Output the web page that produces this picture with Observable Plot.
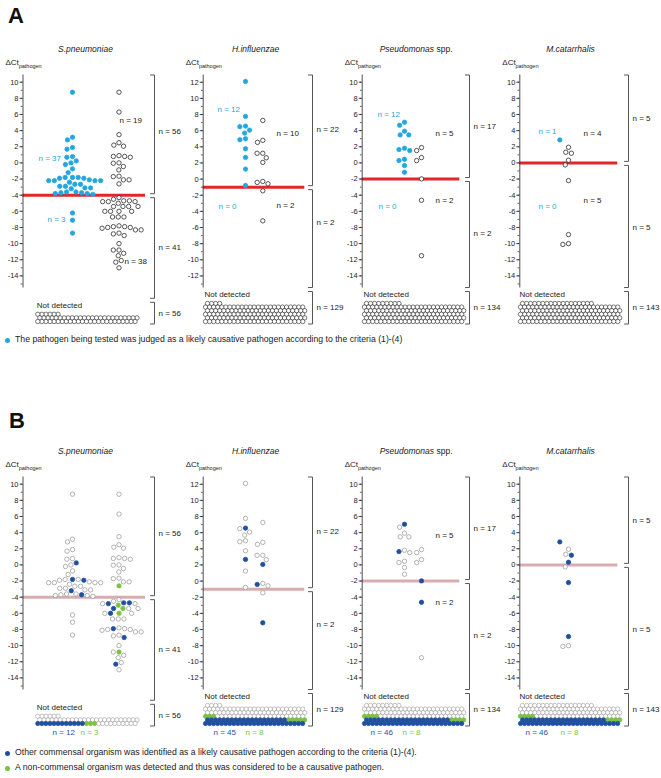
<!DOCTYPE html>
<html><head><meta charset="utf-8">
<script src="https://cdn.jsdelivr.net/npm/d3@7"></script>
<script src="https://cdn.jsdelivr.net/npm/@observablehq/plot@0.6"></script>
<style>
body{margin:0;background:#fff;font-family:"Liberation Sans",Arial,sans-serif;}
#fig{position:relative;width:661px;height:778px;overflow:hidden;background:#fff;}
.big{position:absolute;font-weight:bold;font-size:22px;line-height:22px;color:#111;}
.leg{position:absolute;left:5px;font-size:8.7px;line-height:10px;color:#222;white-space:nowrap;}
.leg i{display:inline-block;width:5px;height:5px;border-radius:50%;margin-right:5px;vertical-align:-0.5px;}
</style></head><body><div id="fig"></div>
<script>
// ---------------- data (ΔCt_pathogen values) ----------------
const species = ["S.pneumoniae", "H.influenzae", "Pseudomonas spp.", "M.catarrhalis"];
const cutoffs = [-4, -1, -2, 0];
const ticksStd = [-14, -12, -10, -8, -6, -4, -2, 0, 2, 4, 6, 8, 10];
const ticksHin = [-12, -10, -8, -6, -4, -2, 0, 2, 4, 6, 8, 10, 12];

// judged as likely causative pathogen (panel A, filled)
const spnJudged = [8.76, 3.18, 2.85, 1.9, 1.7, 0.78, 0.7, 0.25, 0.0, -0.2, -0.74, -1.2, -1.8, -2.1, -2.2, -2.2, -2.4, -2.2, -2.2, -1.8, -1.9, -1.9, -1.8, -2.9, -2.9, -2.65, -2.65, -3.6, -3.6, -3.7, -3.8, -3.8, -3.7, -3.2, -3.1, -3.1, -3.9, -6.2, -7.1, -8.7];
const hinJudged = [12.1, 7.77, 6.57, 6.5, 6.07, 5.7, 5.0, 4.88, 3.76, 2.69, 1.24, -0.79];
const psdJudged = [5.04, 4.67, 3.93, 3.47, 3.47, 1.82, 1.65, 1.53, 0.45, 0.29, -0.33, -1.16];
const mcaJudged = [2.85];
// not judged (panel A, open)
const spnOther = [8.76, 6.3, 3.5, 2.5, 2.2, 2.07, 0.9, 0.8, 0.8, 0.7, 0.0, -0.04, -0.45, -0.87, -1.65, -1.7, -2.1, -2.1, -2.6, -4.3, -4.5, -4.7, -4.7, -4.8, -4.8, -4.8, -5.0, -5.4, -5.4, -5.4, -5.4, -6.0, -6.0, -6.0, -6.0, -6.7, -6.7, -6.7, -7.8, -7.9, -7.9, -8.0, -8.0, -8.1, -8.3, -8.3, -8.7, -8.8, -9.0, -10.0, -10.8, -10.8, -11.2, -11.5, -12.1, -12.3, -13.0];
const hinOther = [7.27, 4.8, 4.55, 3.2, 3.2, 2.64, 2.07, -0.29, -0.41, -0.58, -1.45, -5.17];
const psdOther = [1.9, 1.53, 0.66, 0.29, -1.98, -4.63, -11.5];
const mcaOther = [1.94, 1.32, 1.2, 0.33, -0.25, -2.19, -8.88, -10.0, -10.1];
// panel B: other commensal organism identified as likely causative (blue)
const spnCommensal = [0.25, -1.9, -1.8, -3.2, -3.7, -4.8, -4.7, -5.4, -4.7, -6.0, -7.9, -9.0, -12.3];
const hinCommensal = [6.57, 2.69, 2.07, -0.41, -5.17];
const psdCommensal = [5.04, 1.65, -1.98, -4.63];
const mcaCommensal = [2.85, 1.2, 0.33, -2.19, -8.88];
// panel B: non-commensal organism detected (green)
const spnNonCommensal = [-2.6, -5.0, -5.4, -6.0, -10.8];
const hinNonCommensal = [];
const psdNonCommensal = [];
const mcaNonCommensal = [];
// not detected counts
const notDetected = [56, 129, 134, 143];
const ndCommensal = [12, 45, 46, 46];
const ndNonCommensal = [3, 8, 8, 8];

const judgedAll = [spnJudged, hinJudged, psdJudged, mcaJudged];
const otherAll = [spnOther, hinOther, psdOther, mcaOther];
const commensalAll = [spnCommensal, hinCommensal, psdCommensal, mcaCommensal];
const nonCommensalAll = [spnNonCommensal, hinNonCommensal, psdNonCommensal, mcaNonCommensal];
const majorTicks = [ticksStd, ticksHin, ticksStd, ticksStd];

// ---------------- layout & style ----------------
const K = 8.07, T = 30, H = 318, SHIFT_B = 402;
const RED_A = "#e2262b", RED_B = "#d8adb1";
const CYAN = "#22a6df", NAVY = "#1f4f9e", GREEN = "#7bc144", GRAY = "#9a9a9a", INK = "#222";
const FONT = "Liberation Sans, Arial, Helvetica, sans-serif";
const layout = [
  {L: 0,   W: 192, axis: 22.5,  zero: 162.4, colJ: 72,    colO: 118.5, redEnd: 145,   brX: 154, pileX: 37.3, titleX: 85,
   upLab: 131, lowLab: 247, nJA: [38, 158], nOA: [119, 120], nJB: [47, 219], nOB: [124, 261], ndLab: [52, 80]},
  {L: 165, W: 180, axis: 202.7, zero: 178.6, colJ: 245,   colO: 262.3, redEnd: 304.3, brX: 312, pileX: 205, titleX: 255,
   upLab: 129, lowLab: 222, nJA: [217, 109], nOA: [276, 133], nJB: [218, 206], nOB: [276, 205], ndLab: [213, 245]},
  {L: 325, W: 180, axis: 361.7, zero: 162.4, colJ: 404,   colO: 421,   redEnd: 459.3, brX: 469, pileX: 364, titleX: 415.7,
   upLab: 126, lowLab: 233, nJA: [377, 114], nOA: [435, 133], nJB: [378, 206], nOB: [435, 200], ndLab: [370, 402]},
  {L: 485, W: 176, axis: 519.3, zero: 162.4, colJ: 559.3, colO: 568,   redEnd: 617.3, brX: 628, pileX: 520, titleX: 570,
   upLab: 118, lowLab: 227, nJA: [538, 131], nOA: [583, 133], nJB: [538, 206], nOB: [583, 200], ndLab: [525, 560]}
];

function groupPoints(i) {
  const pts = [
    ...judgedAll[i].map(v => ({v, g: "J", c: null})),
    ...otherAll[i].map(v => ({v, g: "O", c: null}))
  ];
  const order = pts.filter(d => d.g === "O").concat(pts.filter(d => d.g === "J"));
  const assign = (vals, cat) => vals.forEach(v => {
    const hit = order.find(d => !d.c && Math.abs(d.v - v) < 1e-9);
    if (hit) hit.c = cat;
  });
  assign(nonCommensalAll[i], "non");
  assign(commensalAll[i], "com");
  return pts;
}

function makePanel(i, mode) {
  const p = layout[i], thr = cutoffs[i];
  const ml = p.axis - p.L;
  const X = px => px - p.axis;
  const Y = py => (p.zero - py) / K;
  const dom = [Y(287.5), Y(74.5)];
  const ticks = majorTicks[i];
  const minor = d3.range(Math.ceil(dom[0]), Math.floor(dom[1]) + 1);
  const pts = groupPoints(i);
  const J = pts.filter(d => d.g === "J").sort((a, b) => b.v - a.v);
  const O = pts.filter(d => d.g === "O").sort((a, b) => b.v - a.v);
  const mid = p.L + (ml + p.W) / 2;
  const colorOf = d => mode === "A" ? (d.g === "J" ? CYAN : null)
                                    : (d.c === "com" ? NAVY : d.c === "non" ? GREEN : null);
  const fillOf = d => colorOf(d) || "white";
  const strokeOf = d => colorOf(d) || (mode === "A" ? INK : GRAY);
  const swarm = (data, col) => Plot.dot(data, Plot.dodgeX({
    anchor: "middle", padding: 1.3, y: "v", r: 2.2,
    fill: fillOf, stroke: strokeOf, strokeWidth: 0.75, dx: col - mid
  }));

  // not-detected pile
  const nd = notDetected[i];
  const nb = mode === "B" ? ndCommensal[i] : 0;
  const ng = mode === "B" ? ndNonCommensal[i] : 0;
  const rows = Math.ceil(nd / 25);
  const pile = d3.range(nd).map(k => {
    const r = Math.floor(k / 25), c = k % 25;
    return {x: X(p.pileX) + c * 4.05 + (r % 2) * 2, y: Y(321 - r * 3.6), g: "P",
            c: k < nb ? "com" : k < nb + ng ? "non" : null};
  }).reverse();
  const topRowPx = 321 - 3.6 * (rows - 1);
  const ndTextPx = topRowPx - 9;
  const ndTopPx = ndTextPx - 3;
  const thrPx = p.zero - thr * K;

  const bx = X(p.brX);
  const bracket = (y1, y2) => Plot.line(
    [{x: bx - 4, y: y1}, {x: bx, y: y1}, {x: bx, y: y2}, {x: bx - 4, y: y2}],
    {x: "x", y: "y", stroke: "#555", strokeWidth: 1});
  const txt = (s, px, py, o = {}) => Plot.text([s], {
    x: X(px), y: Y(py), text: d => d, textAnchor: "start", fontSize: 8, fill: INK, fontFamily: FONT, ...o});

  const above = a => a.filter(d => d.v > thr).length;
  const jA = above(J), jB = J.length - jA, oA = above(O), oB = O.length - oA;

  const marks = [
    Plot.ruleY([thr], {x1: 0, x2: X(p.redEnd), stroke: mode === "A" ? RED_A : RED_B, strokeWidth: 3}),
    Plot.ruleX([0], {y1: dom[0], y2: dom[1], stroke: INK, strokeWidth: 0.8}),
    Plot.ruleY(ticks, {x1: -3, x2: 0, stroke: INK, strokeWidth: 0.8}),
    Plot.ruleY(minor, {x1: -1.8, x2: 0, stroke: INK, strokeWidth: 0.7}),
    Plot.text(ticks, {x: -4.5, y: d => d, text: d => String(d), textAnchor: "end", fontSize: 7.5, fill: INK, fontFamily: FONT}),
    swarm(J, p.colJ),
    swarm(O, p.colO),
    Plot.dot(pile, {x: "x", y: "y", r: 2.2, fill: fillOf, stroke: strokeOf, strokeWidth: 0.6}),
    bracket(dom[1], Y(thrPx - 1.5)),
    bracket(Y(thrPx + 2.5), Y(ndTopPx - 4)),
    bracket(Y(ndTopPx), Y(323.5)),
    txt(`n = ${jA + oA}`, p.brX + 4, p.upLab),
    txt(`n = ${jB + oB}`, p.brX + 4, p.lowLab),
    txt(`n = ${nd}`, p.brX + 4, (ndTopPx + 323.5) / 2),
    txt("Not detected", p.pileX - 1, ndTextPx),
    txt("ΔCt", p.axis - 17.5, 62),
    txt("pathogen", p.axis - 4.3, 65.5, {fontSize: 5.5})
  ];
  if (i === 2) {
    marks.push(txt("Pseudomonas", 433.5, 49, {fontSize: 8.5, fontStyle: "italic", textAnchor: "end"}));
    marks.push(txt("spp.", 436, 49, {fontSize: 8.5}));
  } else {
    marks.push(txt(species[i], p.titleX, 49, {fontSize: 8.5, fontStyle: "italic", textAnchor: "middle"}));
  }
  if (mode === "A") {
    marks.push(txt(`n = ${jA}`, p.nJA[0], p.nJA[1], {fill: CYAN}));
    marks.push(txt(`n = ${oA}`, p.nOA[0], p.nOA[1]));
    marks.push(txt(`n = ${jB}`, p.nJB[0], p.nJB[1], {fill: CYAN}));
    marks.push(txt(`n = ${oB}`, p.nOB[0], p.nOB[1]));
  } else {
    if (i === 2) {
      marks.push(txt(`n = ${oA}`, p.nOA[0], p.nOA[1]));
      marks.push(txt(`n = ${oB}`, p.nOB[0], p.nOB[1]));
    }
    marks.push(txt(`n = ${ndCommensal[i]}`, p.ndLab[0], 329.5, {fill: NAVY}));
    marks.push(txt(`n = ${ndNonCommensal[i]}`, p.ndLab[1], 329.5, {fill: GREEN}));
  }

  const svg = Plot.plot({
    width: p.W, height: H,
    marginLeft: ml, marginRight: 0, marginTop: 0, marginBottom: 0,
    x: {domain: [0, p.W - ml], axis: null},
    y: {domain: [Y(T + H), Y(T)], axis: null},
    color: {type: "identity"},
    style: {position: "absolute", left: p.L + "px", top: (mode === "A" ? T : T + SHIFT_B) + "px",
            background: "transparent", overflow: "visible", fontFamily: FONT, maxWidth: "none"},
    marks
  });
  return svg;
}

const fig = document.getElementById("fig");
const addDiv = (cls, html, style) => { const d = document.createElement("div"); d.className = cls; d.innerHTML = html; Object.assign(d.style, style); fig.appendChild(d); };
addDiv("big", "A", {left: "8px", top: "5px"});
addDiv("big", "B", {left: "9px", top: "410px"});
for (let i = 0; i < 4; i++) { fig.appendChild(makePanel(i, "A")); fig.appendChild(makePanel(i, "B")); }
addDiv("leg", `<i style="background:${CYAN}"></i>The pathogen being tested was judged as a likely causative pathogen according to the criteria (1)-(4)`, {top: "334px"});
addDiv("leg", `<i style="background:${NAVY}"></i>Other commensal organism was identified as a likely causative pathogen according to the criteria (1)-(4).`, {top: "747px"});
addDiv("leg", `<i style="background:${GREEN}"></i>A non-commensal organism was detected and thus was considered to be a causative pathogen.`, {top: "762px"});
</script></body></html>
